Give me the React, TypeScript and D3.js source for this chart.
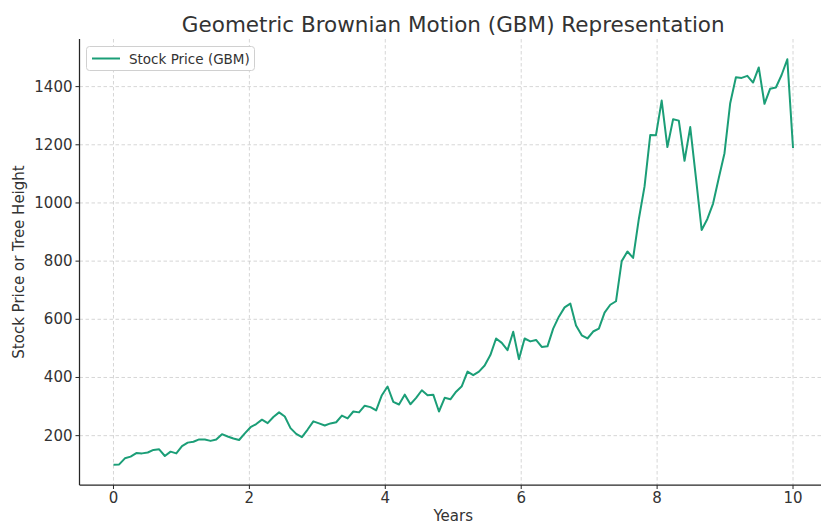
import React from "react";
import * as d3 from "d3";

const prices: number[] = [
  100, 101, 122, 128, 140, 139, 142, 151, 153, 130,
  145, 139, 164, 176, 179, 187, 187, 182, 187, 205,
  197, 190, 185, 208, 229, 240, 255, 243, 264, 280,
  266, 226, 206, 195, 221, 249, 242, 235, 242, 246,
  269, 259, 283, 280, 303, 298, 287, 339, 369, 316,
  307, 341, 308, 330, 356, 339, 341, 283, 330, 325,
  351, 370, 420, 408, 420, 441, 477, 534, 519, 494,
  557, 463, 534, 524, 529, 505, 507, 568, 609, 641,
  654, 579, 545, 534, 558, 568, 623, 650, 662, 800,
  833, 811, 945, 1057, 1234, 1233, 1352, 1192, 1288, 1283,
  1145, 1261, 1086, 907, 945, 998, 1086, 1171, 1343, 1432,
  1430, 1437, 1414, 1466, 1341, 1393, 1397, 1440, 1494, 1189,
];
const totalYears = 10;
const years: number[] = prices.map((_, i) => (i * totalYears) / (prices.length - 1));
const xTicks: number[] = [0, 2, 4, 6, 8, 10];
const yTicks: number[] = [200, 400, 600, 800, 1000, 1200, 1400];
const titleText = "Geometric Brownian Motion (GBM) Representation";
const xLabel = "Years";
const yLabel = "Stock Price or Tree Height";
const seriesName = "Stock Price (GBM)";

const W = 821;
const H = 524;
const left = 79.5;
const right = 827;
const top = 39;
const bottom = 485;
const FONT = "DejaVu Sans, Verdana, sans-serif";
const TEXT = "#333333";
const LINE = "#1b9e77";

export default function App() {
  const x = d3.scaleLinear().domain([-0.5, 10.5]).range([left, right]);
  const yMin = d3.min(prices)!;
  const yMax = d3.max(prices)!;
  const pad = (yMax - yMin) * 0.05;
  const y = d3.scaleLinear().domain([yMin - pad, yMax + pad]).range([bottom, top]);
  const line = d3
    .line<number>()
    .x((_, i) => x(years[i]))
    .y((d) => y(d));

  return (
    <svg
      width={W}
      height={H}
      style={{ position: "absolute", left: 0, top: 0, background: "#fff" }}
      fontFamily={FONT}
    >
      <rect x={0} y={0} width={W} height={H} fill="#fff" />
      {xTicks.map((t) => (
        <line
          key={"gx" + t}
          x1={x(t)}
          x2={x(t)}
          y1={top}
          y2={bottom}
          stroke="#cccccc"
          strokeWidth={0.8}
          strokeDasharray="3.5 2.5"
        />
      ))}
      {yTicks.map((t) => (
        <line
          key={"gy" + t}
          x1={left}
          x2={W}
          y1={y(t)}
          y2={y(t)}
          stroke="#cccccc"
          strokeWidth={0.8}
          strokeDasharray="3.5 2.5"
        />
      ))}
      <path d={line(prices) || ""} fill="none" stroke={LINE} strokeWidth={2} strokeLinejoin="round" />
      <line x1={left} x2={left} y1={top} y2={bottom} stroke="#262626" strokeWidth={1.25} />
      <line x1={left} x2={W} y1={bottom} y2={bottom} stroke="#262626" strokeWidth={1.25} />
      {xTicks.map((t) => (
        <g key={"xt" + t}>
          <line x1={x(t)} x2={x(t)} y1={bottom} y2={bottom + 4} stroke="#262626" strokeWidth={1} />
          <text x={x(t)} y={bottom + 13} textAnchor="middle" dominantBaseline="central" fontSize={15} fill={TEXT}>
            {t}
          </text>
        </g>
      ))}
      {yTicks.map((t) => (
        <g key={"yt" + t}>
          <line x1={left - 4} x2={left} y1={y(t)} y2={y(t)} stroke="#262626" strokeWidth={1} />
          <text x={left - 7} y={y(t)} textAnchor="end" dominantBaseline="central" fontSize={15} fill={TEXT}>
            {t}
          </text>
        </g>
      ))}
      <text x={(left + right) / 2} y={521} textAnchor="middle" fontSize={15} fill={TEXT}>
        {xLabel}
      </text>
      <text
        transform={`translate(19,${(top + bottom) / 2}) rotate(-90)`}
        textAnchor="middle"
        dominantBaseline="central"
        fontSize={15}
        fill={TEXT}
      >
        {yLabel}
      </text>
      <text x={(left + right) / 2} y={24} textAnchor="middle" dominantBaseline="central" fontSize={21.5} fill={TEXT}>
        {titleText}
      </text>
      <rect x={86.5} y={46.5} width={168} height={24} rx={3} fill="#fff" stroke="#d0d0d0" strokeWidth={1} />
      <line x1={92} x2={120} y1={58.5} y2={58.5} stroke={LINE} strokeWidth={2} />
      <text x={129} y={58.5} dominantBaseline="central" fontSize={13.5} fill={TEXT}>
        {seriesName}
      </text>
    </svg>
  );
}
